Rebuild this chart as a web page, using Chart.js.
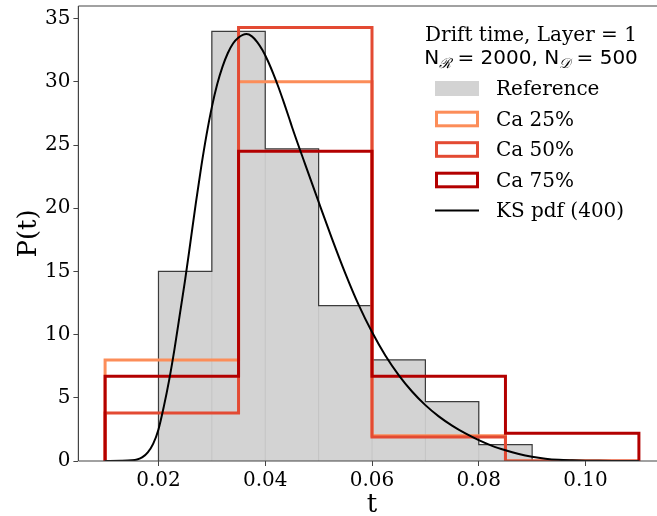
<!DOCTYPE html>
<html>
<head>
<meta charset="utf-8">
<script src="https://cdn.jsdelivr.net/npm/chart.js@4.4.0/dist/chart.umd.min.js"></script>
<style>
  html, body { margin: 0; padding: 0; overflow: hidden; background: #fff; width: 657px; height: 516px; }
  canvas { display: block; }
</style>
</head>
<body>
<canvas id="c" width="680" height="516"></canvas>
<script>
// Reference drift-time histogram (density), 0.01-wide bins
const refEdges = [0.02, 0.03, 0.04, 0.05, 0.06, 0.07, 0.08, 0.09];
const refDensity = [15.0, 34.0, 24.7, 12.3, 8.0, 4.7, 1.3];

// Ca histograms (density), 0.025-wide bins
const caEdges = [0.01, 0.035, 0.06, 0.085, 0.11];
const ca25 = [8.0, 30.0, 2.0, 0.0];
const ca50 = [3.8, 34.3, 1.9, 0.0];
const ca75 = [6.7, 24.5, 6.7, 2.2];

// KS density estimate sampled along t
const ksT = [0.0100, 0.0130, 0.0150, 0.0160, 0.0170, 0.0180, 0.0190, 0.0200, 0.0210, 0.0220,
             0.0230, 0.0240, 0.0250, 0.0260, 0.0270, 0.0280, 0.0290, 0.0300, 0.0310, 0.0320,
             0.0330, 0.0340, 0.0350, 0.0358, 0.0365, 0.0375, 0.0385, 0.0395, 0.0405, 0.0415,
             0.0425, 0.0435, 0.0445, 0.0450, 0.0475, 0.0500, 0.0525, 0.0550, 0.0575, 0.0600,
             0.0625, 0.0650, 0.0675, 0.0700, 0.0725, 0.0750, 0.0775, 0.0800, 0.0825, 0.0850,
             0.0875, 0.0900, 0.0925, 0.0950, 0.0975, 0.1000, 0.1025, 0.1050, 0.1100];
const ksP = [0.00, 0.01, 0.05, 0.12, 0.30, 0.68, 1.35, 2.50, 4.30, 6.40,
             8.85, 11.60, 14.35, 17.35, 20.40, 23.25, 25.80, 28.00, 29.80, 31.20,
             32.28, 33.05, 33.50, 33.72, 33.78, 33.60, 33.15, 32.50, 31.65, 30.65,
             29.55, 28.35, 27.10, 26.45, 23.45, 20.50, 17.60, 14.85, 12.35, 10.20,
             8.35, 6.80, 5.50, 4.42, 3.53, 2.80, 2.18, 1.65, 1.20, 0.85,
             0.55, 0.33, 0.18, 0.09, 0.05, 0.025, 0.012, 0.005, 0.00];

const xTicks = [0.02, 0.04, 0.06, 0.08, 0.10];
const yTicks = [0, 5, 10, 15, 20, 25, 30, 35];

const legendTitle = 'Drift time, Layer = 1';
const seriesLabels = ['Reference', 'Ca 25%', 'Ca 50%', 'Ca 75%', 'KS pdf (400)'];

const COLORS = {
  refFill: '#d3d3d3',
  refEdge: '#c4c4c4',
  refOutline: '#3c3c3c',
  ca25: '#fc8d59',
  ca50: '#e34a33',
  ca75: '#b30000',
  ks: '#000000',
  spine: '#444444'
};

// outline of a histogram drawn as a step polygon
function stepOutline(edges, vals) {
  const pts = [{ x: edges[0], y: 0 }];
  vals.forEach((v, i) => {
    pts.push({ x: edges[i], y: v });
    pts.push({ x: edges[i + 1], y: v });
  });
  pts.push({ x: edges[edges.length - 1], y: 0 });
  return pts;
}

// thin separators between neighbouring bars
function innerEdges(edges, vals) {
  const pts = [];
  for (let i = 1; i < vals.length; i++) {
    pts.push({ x: edges[i], y: 0 });
    pts.push({ x: edges[i], y: Math.max(vals[i - 1], vals[i]) });
    pts.push({ x: edges[i], y: null });
  }
  return pts;
}

const ksData = ksT.map((t, i) => ({ x: t, y: ksP[i] }));

const lineBase = {
  showLine: true, pointRadius: 0, pointHoverRadius: 0, tension: 0,
  borderJoinStyle: 'miter', borderCapStyle: 'butt', spanGaps: false
};

const datasets = [
  Object.assign({}, lineBase, {
    label: seriesLabels[0], data: stepOutline(refEdges, refDensity),
    borderWidth: 0, borderColor: 'rgba(0,0,0,0)', backgroundColor: COLORS.refFill,
    fill: 'origin', order: 7, legendKind: 'patch', legendColor: COLORS.refFill
  }),
  Object.assign({}, lineBase, {
    label: '_edges', data: innerEdges(refEdges, refDensity),
    borderWidth: 1, borderColor: COLORS.refEdge, fill: false, order: 6
  }),
  Object.assign({}, lineBase, {
    label: '_outline', data: stepOutline(refEdges, refDensity),
    borderWidth: 1.2, borderColor: COLORS.refOutline, fill: false, order: 5
  }),
  Object.assign({}, lineBase, {
    label: seriesLabels[1], data: stepOutline(caEdges, ca25),
    borderWidth: 3, borderColor: COLORS.ca25, fill: false, order: 4, legendKind: 'box'
  }),
  Object.assign({}, lineBase, {
    label: seriesLabels[2], data: stepOutline(caEdges, ca50),
    borderWidth: 3, borderColor: COLORS.ca50, fill: false, order: 3, legendKind: 'box'
  }),
  Object.assign({}, lineBase, {
    label: seriesLabels[3], data: stepOutline(caEdges, ca75),
    borderWidth: 3, borderColor: COLORS.ca75, fill: false, order: 2, legendKind: 'box'
  }),
  Object.assign({}, lineBase, {
    label: seriesLabels[4], data: ksData,
    borderWidth: 2, borderColor: COLORS.ks, fill: false, order: 1,
    cubicInterpolationMode: 'monotone', legendKind: 'line'
  })
];

// frame around the plotting area, drawn above the data
const spinesPlugin = {
  id: 'spines',
  afterDatasetsDraw(chart) {
    const { ctx, chartArea: a } = chart;
    ctx.save();
    ctx.strokeStyle = COLORS.spine;
    ctx.lineWidth = 1.2;
    ctx.beginPath();
    ctx.moveTo(a.left, a.top); ctx.lineTo(a.right, a.top);
    ctx.moveTo(a.left, a.bottom); ctx.lineTo(a.right, a.bottom);
    ctx.moveTo(a.left, a.top); ctx.lineTo(a.left, a.bottom);
    ctx.moveTo(a.right, a.top); ctx.lineTo(a.right, a.bottom);
    ctx.stroke();
    ctx.restore();
  }
};

// axis titles and legend block
const annotPlugin = {
  id: 'annot',
  afterDraw(chart) {
    const { ctx, chartArea: a } = chart;
    ctx.save();
    ctx.fillStyle = '#000';

    // axis titles
    ctx.font = '26px "DejaVu Serif"';
    ctx.textAlign = 'center';
    ctx.textBaseline = 'alphabetic';
    ctx.fillText('t', (a.left + a.right) / 2, 512);
    ctx.save();
    ctx.translate(36, (a.top + a.bottom) / 2);
    ctx.rotate(-Math.PI / 2);
    ctx.fillText('P(t)', 0, 0);
    ctx.restore();

    // legend title, first line
    const cx = 531;
    ctx.font = '20px "DejaVu Serif"';
    ctx.fillText(legendTitle, cx, 41);

    // legend title, second line with calligraphic subscripts
    const parts = [
      { t: 'N', f: '20px "DejaVu Sans"', dy: 0 },
      { t: '\u211B', f: 'italic 14px "DejaVu Serif"', dy: 4 },
      { t: ' = 2000, N', f: '20px "DejaVu Sans"', dy: 0 },
      { t: '\uD835\uDC9F', f: 'italic 14px "DejaVu Serif"', dy: 4 },
      { t: ' = 500', f: '20px "DejaVu Sans"', dy: 0 }
    ];
    let total = 0;
    parts.forEach(p => { ctx.font = p.f; p.w = ctx.measureText(p.t).width; total += p.w; });
    let x = cx - total / 2;
    ctx.textAlign = 'left';
    parts.forEach(p => { ctx.font = p.f; ctx.fillText(p.t, x, 64 + p.dy); x += p.w; });

    // legend entries
    const hx = 435, hw = 44, tx = 496;
    const rowY = [88.5, 119, 149.5, 180, 210.5];
    const items = chart.data.datasets.filter(d => d.legendKind);
    ctx.font = '20px "DejaVu Serif"';
    items.forEach((d, i) => {
      const cy = rowY[i];
      if (d.legendKind === 'patch') {
        ctx.fillStyle = d.legendColor;
        ctx.fillRect(hx, cy - 7.5, hw, 15);
      } else if (d.legendKind === 'box') {
        ctx.strokeStyle = d.borderColor;
        ctx.lineWidth = 3;
        ctx.lineJoin = 'miter';
        ctx.strokeRect(hx + 1.5, cy - 6.8, hw - 3, 13.6);
      } else {
        ctx.strokeStyle = d.borderColor;
        ctx.lineWidth = 2;
        ctx.beginPath();
        ctx.moveTo(hx, cy); ctx.lineTo(hx + hw, cy);
        ctx.stroke();
      }
      ctx.fillStyle = '#000';
      ctx.fillText(d.label, tx, cy + 6.5);
    });
    ctx.restore();
  }
};

new Chart(document.getElementById('c'), {
  type: 'scatter',
  data: { datasets },
  options: {
    responsive: false,
    animation: false,
    events: [],
    layout: { padding: { left: 0, top: 6, right: 14.4, bottom: 0 } },
    plugins: {
      legend: { display: false },
      tooltip: { enabled: false },
      filler: { propagate: false }
    },
    scales: {
      x: {
        type: 'linear',
        min: 0.005, max: 0.115,
        afterFit: s => { s.height = 55; s.paddingLeft = 0; s.paddingRight = 0; },
        afterBuildTicks: s => { s.ticks = xTicks.map(v => ({ value: v })); },
        border: { display: false },
        grid: { drawOnChartArea: false, drawTicks: true, tickLength: 5, tickColor: COLORS.spine, tickWidth: 1 },
        ticks: {
          color: '#000', padding: 3, maxRotation: 0, autoSkip: false,
          font: { family: 'DejaVu Serif', size: 20 },
          callback: v => Number(v).toFixed(2)
        }
      },
      y: {
        type: 'linear',
        min: 0, max: 36,
        afterFit: s => { s.width = 78.4; s.paddingTop = 0; s.paddingBottom = 0; },
        afterBuildTicks: s => { s.ticks = yTicks.map(v => ({ value: v })); },
        border: { display: false },
        grid: { drawOnChartArea: false, drawTicks: true, tickLength: 5, tickColor: COLORS.spine, tickWidth: 1 },
        ticks: {
          color: '#000', padding: 3, autoSkip: false,
          font: { family: 'DejaVu Serif', size: 20 },
          callback: v => String(v)
        }
      }
    }
  },
  plugins: [spinesPlugin, annotPlugin]
});
</script>
</body>
</html>
